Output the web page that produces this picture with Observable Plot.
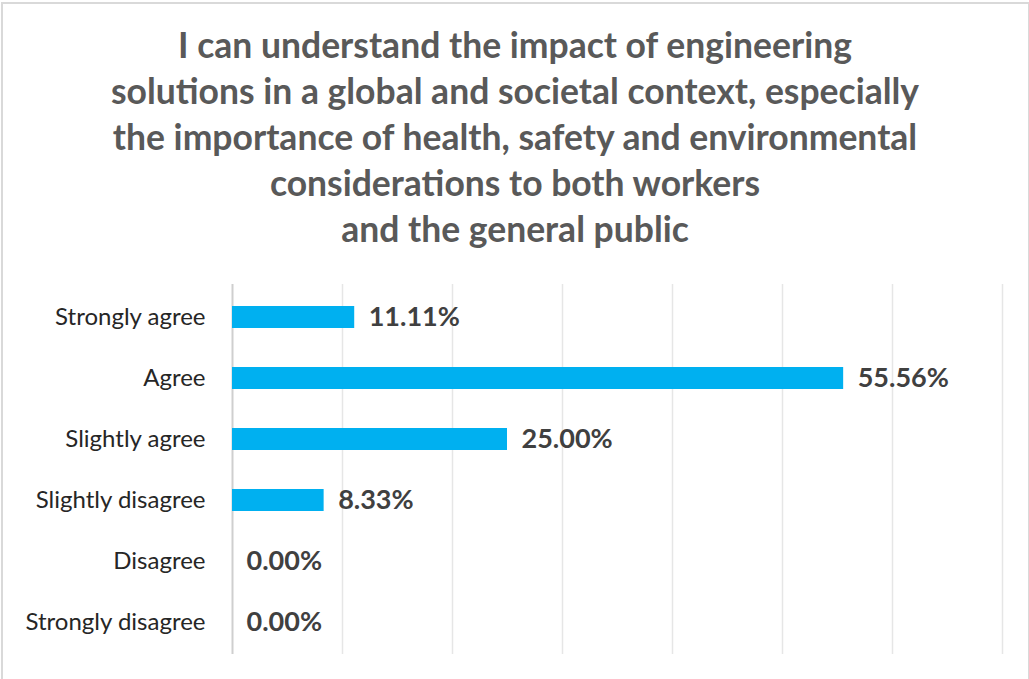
<!DOCTYPE html>
<html>
<head>
<meta charset="utf-8">
<script src="https://cdn.jsdelivr.net/npm/d3@7"></script>
<script src="https://cdn.jsdelivr.net/npm/@observablehq/plot@0.6"></script>
<style>
  body { margin: 0; background: #fff; }
  #frame { position: relative; width: 1029px; height: 679px; overflow: hidden; background: #fff; }
  #border { position: absolute; left: 1px; top: 2px; width: 1025px; height: 700px; border: 2px solid #d9d9d9; }
  #title { position: absolute; top: 22px; left: 0; width: 1030px; text-align: center;
           font-family: Lato, sans-serif; font-weight: bold; font-size: 35.5px; line-height: 46px; color: #595959; }
  #chart { position: absolute; top: 262px; left: 0; }
</style>
</head>
<body>
<div id="frame">
  <div id="border"></div>
  <div id="title"></div>
  <div id="chart"></div>
</div>
<script>
const titleLines = [
  "I can understand the impact of engineering",
  "solutions in a global and societal context, especially",
  "the importance of health, safety and environmental",
  "considerations to both workers",
  "and the general public"
];
const categories = ["Strongly agree", "Agree", "Slightly agree", "Slightly disagree", "Disagree", "Strongly disagree"];
const values = [11.11, 55.56, 25.00, 8.33, 0.00, 0.00];
const gridTicks = [0, 10, 20, 30, 40, 50, 60, 70];

document.getElementById("title").innerHTML = titleLines.join("<br>");

const data = categories.map((c, i) => ({category: c, value: values[i]}));

const chart = Plot.plot({
  width: 1029,
  height: 417,
  marginTop: 22,
  marginBottom: 25,
  marginLeft: 232,
  marginRight: 27,
  style: {fontFamily: "Lato, sans-serif", background: "transparent"},
  x: {domain: [0, 70], axis: null},
  y: {domain: categories, paddingInner: 0.64, paddingOuter: 0.32, axis: null},
  marks: [
    Plot.ruleX(gridTicks.slice(1), {stroke: "#e6e6e6", strokeWidth: 1.5}),
    Plot.ruleX([0], {stroke: "#cfcfcf", strokeWidth: 2}),
    Plot.axisY({tickSize: 0, tickPadding: 27, fontSize: 24, label: null, fill: "#262626"}),
    Plot.barX(data, {x: "value", y: "category", fill: "#00B0F0"}),
    Plot.text(data, {x: "value", y: "category", text: d => d.value.toFixed(2) + "%",
      dx: 14, textAnchor: "start", fontSize: 27, fontWeight: "bold", fill: "#404040"})
  ]
});
document.getElementById("chart").appendChild(chart);
</script>
</body>
</html>
